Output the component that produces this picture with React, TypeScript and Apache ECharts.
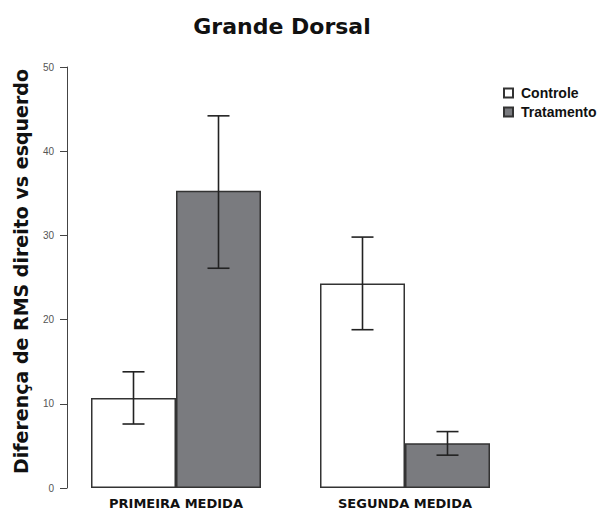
import React, { useEffect, useRef } from "react";
import * as echarts from "echarts";

const categories = ["PRIMEIRA MEDIDA", "SEGUNDA MEDIDA"];
const controleMean = [10.7, 24.3];
const controleLow = [7.6, 18.8];
const controleHigh = [13.8, 29.8];
const tratamentoMean = [35.3, 5.3];
const tratamentoLow = [26.1, 3.9];
const tratamentoHigh = [44.2, 6.7];
const yTicks = { min: 0, max: 50, interval: 10 };

const FONT = "'DejaVu Sans', 'Liberation Sans', Arial, sans-serif";
const SANS = "'Liberation Sans', Arial, sans-serif";
const BAR_W = 85;

function errorSeries(low: number[], high: number[], offset: number) {
  return {
    type: "custom",
    z: 5,
    silent: true,
    encode: { x: 0, y: [1, 2] },
    data: low.map((l, i) => [i, l, high[i]]),
    renderItem: (params: any, api: any) => {
      const xi = api.value(0);
      const lo = api.coord([xi, api.value(1)]);
      const hi = api.coord([xi, api.value(2)]);
      const cx = lo[0] + offset;
      const cap = 11;
      const style = { stroke: "#222", lineWidth: 1.6 };
      return {
        type: "group",
        children: [
          { type: "line", shape: { x1: cx, y1: lo[1], x2: cx, y2: hi[1] }, style },
          { type: "line", shape: { x1: cx - cap, y1: lo[1], x2: cx + cap, y2: lo[1] }, style },
          { type: "line", shape: { x1: cx - cap, y1: hi[1], x2: cx + cap, y2: hi[1] }, style },
        ],
      };
    },
  };
}

export default function App() {
  const ref = useRef<HTMLDivElement>(null);
  useEffect(() => {
    if (!ref.current) return;
    const chart = echarts.init(ref.current, undefined, { renderer: "svg" });
    chart.setOption({
      animation: false,
      backgroundColor: "#fff",
      title: {
        text: "Grande Dorsal",
        left: 277,
        textAlign: "center",
        top: 10,
        textStyle: { fontFamily: FONT, fontSize: 22, fontWeight: "bold", color: "#111" },
      },
      legend: {
        data: ["Controle", "Tratamento"],
        orient: "vertical",
        left: 503,
        top: 86,
        padding: 0,
        itemWidth: 9,
        itemHeight: 9,
        itemGap: 5,
        icon: "rect",
        textStyle: { fontFamily: SANS, fontSize: 14, fontWeight: "bold", color: "#111", padding: [0, 0, 0, 3] },
      },
      grid: { left: 61.5, right: 82.5, top: 67, bottom: 24 },
      xAxis: {
        type: "category",
        data: categories,
        axisLine: { show: false },
        axisTick: { show: false },
        axisLabel: { fontFamily: FONT, fontSize: 13, fontWeight: "bold", color: "#111", margin: 9 },
      },
      yAxis: {
        type: "value",
        min: yTicks.min,
        max: yTicks.max,
        interval: yTicks.interval,
        offset: -5.5,
        name: "Diferença de RMS direito vs esquerdo",
        nameLocation: "middle",
        nameGap: 37,
        nameTextStyle: { fontFamily: FONT, fontSize: 19, fontWeight: "bold", color: "#111", padding: [0, 0, 0, 12] },
        splitLine: { show: false },
        axisLine: { show: true, lineStyle: { color: "#444", width: 1 } },
        axisTick: { show: true, length: 7, lineStyle: { color: "#444" } },
        axisLabel: { fontFamily: SANS, fontSize: 10, color: "#555", margin: 13 },
      },
      series: [
        {
          name: "Controle",
          type: "bar",
          data: controleMean,
          barWidth: BAR_W,
          barGap: "0%",
          itemStyle: { color: "#ffffff", borderColor: "#333", borderWidth: 1.5 },
        },
        {
          name: "Tratamento",
          type: "bar",
          data: tratamentoMean,
          barWidth: BAR_W,
          barGap: "0%",
          itemStyle: { color: "#7a7b7f", borderColor: "#333", borderWidth: 1.5 },
        },
        errorSeries(controleLow, controleHigh, -BAR_W / 2),
        errorSeries(tratamentoLow, tratamentoHigh, BAR_W / 2),
      ],
    });
    return () => chart.dispose();
  }, []);
  return <div ref={ref} style={{ width: 602, height: 512, position: "absolute", left: 0, top: 0 }} />;
}
